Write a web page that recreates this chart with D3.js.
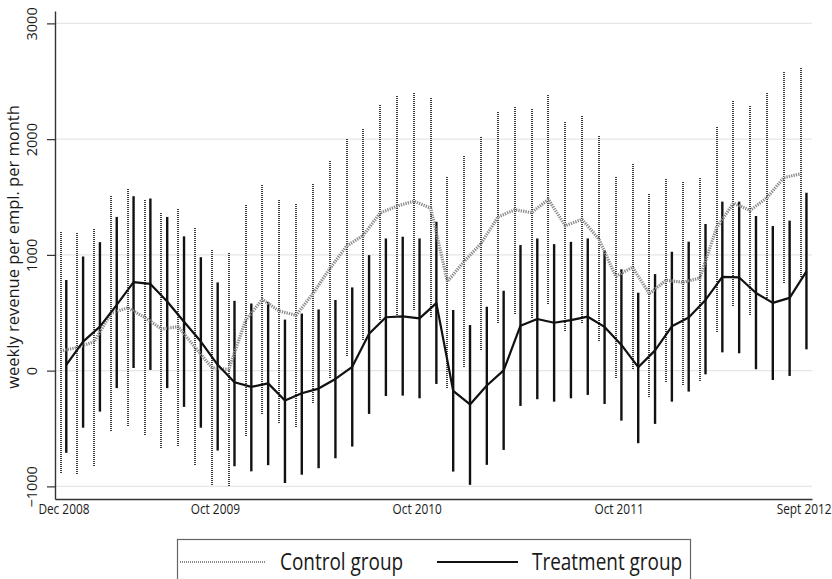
<!DOCTYPE html>
<html>
<head>
<meta charset="utf-8">
<script src="https://cdn.jsdelivr.net/npm/d3@7"></script>
<style>
  body { margin: 0; background: #fff; }
  text { font-family: "Open Sans", sans-serif; fill: #1a1a1a; }
</style>
</head>
<body>
<div id="root"></div>
<script>
// monthly index 0..44 (Dec 2008 .. Sept 2012)
const xTickIdx    = [0, 9, 21, 33, 44];
const xTickLabels = ['Dec 2008', 'Oct 2009', 'Oct 2010', 'Oct 2011', 'Sept 2012'];
const yTicks      = [-1000, 0, 1000, 2000, 3000];

// control group: mean and 95% band
const ctlMean = [170, 200, 250, 495, 543, 460, 360, 380, 200, 26, 10, 435, 616, 515, 478,
  665, 880, 1075, 1170, 1362, 1421, 1464, 1405, 770, 945, 1099, 1327, 1390, 1365, 1479,
  1252, 1307, 1137, 815, 893, 665, 781, 763, 800, 1235, 1447, 1385, 1495, 1668, 1700];
const ctlLow = [-884, -893, -826, -522, -478, -557, -667, -652, -812, -991, -1000, -565, -377, -449, -487,
  -282, -66, 127, 265, 437, 466, 524, 466, -152, 35, 178, 414, 489, 452, 575,
  345, 409, 259, -66, 12, -224, -95, -124, -86, 337, 559, 481, 610, 760, 812];
const ctlHigh = [1209, 1194, 1232, 1513, 1565, 1478, 1362, 1406, 1241, 1044, 1015, 1435, 1609, 1478, 1444,
  1611, 1824, 2014, 2092, 2293, 2376, 2404, 2364, 1674, 1861, 2020, 2235, 2284, 2264, 2383,
  2149, 2207, 2034, 1680, 1784, 1525, 1654, 1640, 1661, 2113, 2338, 2286, 2395, 2591, 2611];

// treatment group
const trtMean = [49, 251, 380, 568, 764, 749, 597, 423, 251, 50, -100, -140, -110, -258, -195,
  -155, -72, 33, 318, 461, 468, 452, 583, -174, -292, -128, 2, 388, 446, 414,
  437, 466, 378, 222, 30, 175, 383, 459, 611, 810, 805, 671, 585, 629, 858];
const trtLow = [-710, -493, -354, -151, 23, 6, -151, -313, -493, -690, -826, -870, -817, -971, -899,
  -843, -757, -656, -374, -219, -216, -239, -115, -872, -987, -814, -685, -305, -247, -268,
  -239, -210, -288, -432, -627, -460, -268, -181, -32, 158, 150, 12, -81, -46, 184];
const trtHigh = [783, 986, 1110, 1328, 1507, 1487, 1328, 1160, 980, 762, 603, 580, 594, 441, 493,
  529, 610, 719, 998, 1142, 1157, 1142, 1286, 524, 394, 552, 690, 1085, 1142, 1093,
  1113, 1142, 1041, 875, 673, 834, 1027, 1114, 1267, 1460, 1460, 1336, 1249, 1296, 1537];

const W = 832, H = 579;
const m = { left: 55, right: 20, top: 11, bottom: 80 };
const squeeze = 0.79; // text in the original is a bit condensed

const svg = d3.select('#root').append('svg').attr('width', W).attr('height', H);

const x = d3.scaleLinear().domain([-0.5, 44.5]).range([m.left, W - m.right]);
const y = d3.scaleLinear().domain([-1109, 3107]).range([H - m.bottom, m.top]);
const off = 0.17;

// gridlines
svg.append('g').selectAll('line').data(yTicks).join('line')
  .attr('x1', m.left).attr('x2', W - m.right)
  .attr('y1', d => y(d)).attr('y2', d => y(d))
  .attr('stroke', '#e6e6e6').attr('stroke-width', 1.3);

// confidence bands (snapped to pixels so the dotted pattern stays crisp)
svg.append('g').selectAll('line').data(ctlMean).join('line')
  .attr('x1', (d, i) => Math.round(x(i - off))).attr('x2', (d, i) => Math.round(x(i - off)))
  .attr('y1', (d, i) => Math.round(y(ctlLow[i]))).attr('y2', (d, i) => Math.round(y(ctlHigh[i])))
  .attr('stroke', '#3a3a3a').attr('stroke-width', 2).attr('stroke-dasharray', '1,1')
  .attr('shape-rendering', 'crispEdges');

svg.append('g').selectAll('line').data(trtMean).join('line')
  .attr('x1', (d, i) => x(i + off)).attr('x2', (d, i) => x(i + off))
  .attr('y1', (d, i) => y(trtLow[i])).attr('y2', (d, i) => y(trtHigh[i]))
  .attr('stroke', '#111').attr('stroke-width', 2.4);

// mean lines
const lineC = d3.line().x((d, i) => x(i - off)).y(d => y(d));
const lineT = d3.line().x((d, i) => x(i + off)).y(d => y(d));

svg.append('path').datum(ctlMean).attr('d', lineC)
  .attr('fill', 'none').attr('stroke', '#8a8a8a').attr('stroke-width', 3.2)
  .attr('stroke-dasharray', '1.3,1.1');
svg.append('path').datum(trtMean).attr('d', lineT)
  .attr('fill', 'none').attr('stroke', '#111').attr('stroke-width', 2.2)
  .attr('stroke-linejoin', 'round');

// axes
const yAxis = svg.append('g').attr('transform', `translate(${m.left},0)`)
  .call(d3.axisLeft(y).tickValues(yTicks).tickSize(8).tickSizeOuter(0)
    .tickFormat(d => d < 0 ? '\u2212' + Math.abs(d) : d));
yAxis.select('.domain').attr('stroke', '#333').attr('stroke-width', 1.4);
yAxis.selectAll('.tick line').attr('stroke', '#333').attr('stroke-width', 1.2);
yAxis.selectAll('.tick text')
  .attr('x', 0).attr('y', 0).attr('dy', 0)
  .attr('text-anchor', 'middle')
  .attr('transform', 'translate(-18,0) rotate(-90)')
  .style('font-size', '14.5px').style('font-family', '"Open Sans", sans-serif').attr('fill', '#1a1a1a');

const xAxis = svg.append('g').attr('transform', `translate(0,${H - m.bottom})`)
  .call(d3.axisBottom(x).tickValues(xTickIdx).tickSize(0).tickSizeOuter(0)
    .tickFormat((d, i) => xTickLabels[i]));
xAxis.select('.domain').attr('stroke', '#333').attr('stroke-width', 1.4);
xAxis.selectAll('.tick text')
  .attr('y', 15).attr('dy', 0)
  .attr('transform', `scale(${squeeze},1)`)
  .style('font-size', '15px').style('font-family', '"Open Sans", sans-serif').attr('fill', '#1a1a1a');

// y title
svg.append('text')
  .attr('transform', `translate(19,${(m.top + H - m.bottom) / 2 - 8}) rotate(-90)`)
  .attr('text-anchor', 'middle')
  .style('font-size', '16.5px')
  .text('weekly revenue per empl. per month');

// legend
const lg = svg.append('g');
lg.append('rect').attr('x', 177.5).attr('y', 539.5).attr('width', 513).attr('height', 50)
  .attr('fill', '#fff').attr('stroke', '#666').attr('stroke-width', 1.2);
lg.append('line').attr('x1', 180).attr('x2', 265).attr('y1', 562).attr('y2', 562)
  .attr('stroke', '#8a8a8a').attr('stroke-width', 2).attr('stroke-dasharray', '1,1');
lg.append('text').attr('transform', `translate(280,570) scale(${squeeze},1)`)
  .style('font-size', '24px').text('Control group');
lg.append('line').attr('x1', 437).attr('x2', 518).attr('y1', 562).attr('y2', 562)
  .attr('stroke', '#111').attr('stroke-width', 2);
lg.append('text').attr('transform', `translate(532,570) scale(${squeeze},1)`)
  .style('font-size', '24px').text('Treatment group');
</script>
</body>
</html>
